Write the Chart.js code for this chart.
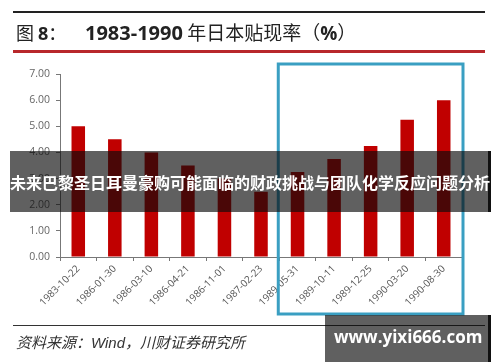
<!DOCTYPE html>
<html>
<head>
<meta charset="utf-8">
<script src="https://cdn.jsdelivr.net/npm/chart.js@4"></script>
<style>
  body { margin: 0; background: #fff; }
  #wrap { position: relative; width: 500px; height: 362px; overflow: hidden; background: #fff; }
  #chart { position: absolute; left: 0; top: 0; }
  .rule { position: absolute; left: 13px; width: 472px; }
  .txt { position: absolute; white-space: nowrap; }
  .shade { position: absolute; background: rgba(10,10,10,0.65); border-right: 3px solid #111; box-sizing: border-box; color: #fff; font-weight: bold; }
</style>
</head>
<body>
<div id="wrap">
  <canvas id="chart" width="500" height="362"></canvas>
  <div class="rule" style="top:11px;height:2px;background:#222;"></div>
  <div class="txt" style="left:16px;top:19px;font:18px 'Noto Sans CJK SC';color:#222;">图 <b style="font-family:'Open Sans'">8</b>：</div>
  <div class="txt" style="left:85px;top:18px;font:19px 'Noto Sans CJK SC';color:#222;"><b style="font-family:'Open Sans';font-size:20px">1983-1990</b> 年日本贴现率（<b style="font-family:'Open Sans'">%</b>）</div>
  <div class="rule" style="top:50px;height:3px;background:#b8282b;"></div>
  <div class="rule" style="top:325px;height:1px;background:#333;"></div>
  <div class="txt" style="left:16px;top:331px;font:italic 15px 'Noto Sans CJK SC';color:#333;">资料来源：<span style="font-family:'Liberation Sans'">Wind</span>，川财证券研究所</div>
  <div class="shade" style="left:10px;top:151px;width:481px;height:61px;">
    <div class="txt" style="left:0;top:19px;font:bold 16px 'Noto Sans CJK SC';">未来巴黎圣日耳曼豪购可能面临的财政挑战与团队化学反应问题分析</div>
  </div>
  <div class="shade" style="left:325px;top:315px;width:166px;height:47px;">
    <div class="txt" style="left:9px;top:10px;font:bold 17px 'Open Sans';">www.yixi666.com</div>
  </div>
</div>
<script>
const dates = ["1983-10-22", "1986-01-30", "1986-03-10", "1986-04-21", "1986-11-01", "1987-02-23",
  "1989-05-31", "1989-10-11", "1989-12-25", "1990-03-20", "1990-08-30"];
const rates = [5.0, 4.5, 4.0, 3.5, 3.0, 2.5, 3.25, 3.75, 4.25, 5.25, 6.0];
// bars inside the highlight box
const boxFrom = 6;
const boxTo = 10;

const highlightBox = {
  id: "highlightBox",
  afterDatasetsDraw(chart) {
    const x = chart.scales.x, y = chart.scales.y;
    const half = (x.getPixelForValue(1) - x.getPixelForValue(0)) / 2;
    const left = x.getPixelForValue(boxFrom) - half - 1;
    const right = x.getPixelForValue(boxTo) + half + 1;
    const top = y.getPixelForValue(7) - 10;
    const bottom = y.getPixelForValue(0) + 57;
    const ctx = chart.ctx;
    ctx.save();
    ctx.strokeStyle = "#3a9fc2";
    ctx.lineWidth = 3;
    ctx.strokeRect(left, top, right - left, bottom - top);
    ctx.restore();
  }
};

new Chart(document.getElementById("chart"), {
  type: "bar",
  plugins: [highlightBox],
  data: {
    labels: dates,
    datasets: [{
      data: rates,
      backgroundColor: "#c00000",
      categoryPercentage: 1,
      barPercentage: 0.37
    }]
  },
  options: {
    responsive: false,
    animation: false,
    layout: { padding: { left: 0, top: 74, right: 38, bottom: 0 } },
    plugins: { legend: { display: false }, tooltip: { enabled: false } },
    scales: {
      y: {
        min: 0, max: 7,
        afterFit: (s) => { s.width = 60; },
        ticks: {
          stepSize: 1,
          padding: 6,
          color: "#666",
          font: { family: "Open Sans", size: 10.5 },
          callback: (v) => v.toFixed(2)
        },
        grid: { drawOnChartArea: false, drawTicks: true, tickLength: 4, color: "#777" },
        border: { color: "#777" }
      },
      x: {
        afterFit: (s) => { s.height = 105; },
        ticks: {
          minRotation: 45, maxRotation: 45,
          padding: 2,
          color: "#555",
          font: { family: "Open Sans", size: 10 }
        },
        grid: { offset: true, drawOnChartArea: false, drawTicks: true, tickLength: 4, color: "#777" },
        border: { color: "#777" }
      }
    }
  }
});
</script>
</body>
</html>
